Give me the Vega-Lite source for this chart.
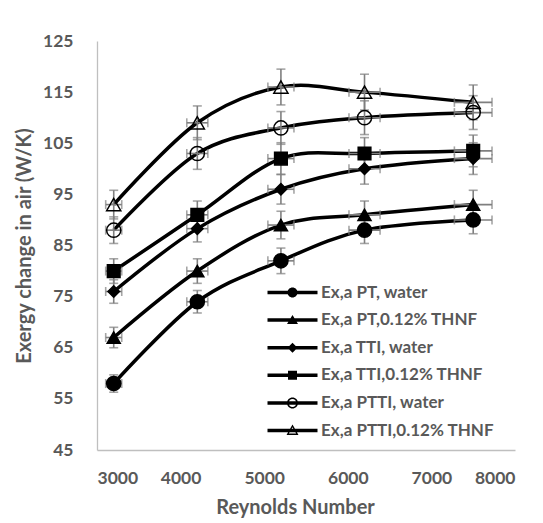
{
  "$schema": "https://vega.github.io/schema/vega-lite/v6.json",
  "autosize": {"type": "none"},
  "width": 418,
  "height": 409,
  "padding": {"left": 97, "top": 41, "right": 28, "bottom": 73},
  "background": "white",
  "config": {
    "view": {"stroke": null},
    "font": "Lato",
    "axis": {
      "grid": false, "ticks": false, "tickSize": 0,
      "domainColor": "#bfbfbf", "domainWidth": 1.3,
      "labelFont": "Lato", "labelFontSize": 17.5, "labelFontWeight": "bold", "labelColor": "#595959",
      "titleFont": "Lato", "titleFontSize": 20, "titleFontWeight": "bold", "titleColor": "#595959"
    },
    "legend": {
      "labelFont": "Lato", "labelFontSize": 17, "labelFontWeight": "bold", "labelColor": "#595959", "labelLimit": 0
    }
  },
  "data": {"values": [
    {"series": "Ex,a PT, water", "re": 3200, "ex": 58, "exErr": 1.7, "reErr": 96},
    {"series": "Ex,a PT, water", "re": 4200, "ex": 74, "exErr": 2.2, "reErr": 126},
    {"series": "Ex,a PT, water", "re": 5200, "ex": 82, "exErr": 2.5, "reErr": 156},
    {"series": "Ex,a PT, water", "re": 6200, "ex": 88, "exErr": 2.6, "reErr": 186},
    {"series": "Ex,a PT, water", "re": 7500, "ex": 90, "exErr": 2.7, "reErr": 225},
    {"series": "Ex,a PT,0.12% THNF", "re": 3200, "ex": 67, "exErr": 2.0, "reErr": 96},
    {"series": "Ex,a PT,0.12% THNF", "re": 4200, "ex": 80, "exErr": 2.4, "reErr": 126},
    {"series": "Ex,a PT,0.12% THNF", "re": 5200, "ex": 89, "exErr": 2.7, "reErr": 156},
    {"series": "Ex,a PT,0.12% THNF", "re": 6200, "ex": 91, "exErr": 2.7, "reErr": 186},
    {"series": "Ex,a PT,0.12% THNF", "re": 7500, "ex": 93, "exErr": 2.8, "reErr": 225},
    {"series": "Ex,a TTI, water", "re": 3200, "ex": 76, "exErr": 2.3, "reErr": 96},
    {"series": "Ex,a TTI, water", "re": 4200, "ex": 88.3, "exErr": 2.6, "reErr": 126},
    {"series": "Ex,a TTI, water", "re": 5200, "ex": 96, "exErr": 2.9, "reErr": 156},
    {"series": "Ex,a TTI, water", "re": 6200, "ex": 100, "exErr": 3.0, "reErr": 186},
    {"series": "Ex,a TTI, water", "re": 7500, "ex": 102, "exErr": 3.1, "reErr": 225},
    {"series": "Ex,a TTI,0.12% THNF", "re": 3200, "ex": 80, "exErr": 2.4, "reErr": 96},
    {"series": "Ex,a TTI,0.12% THNF", "re": 4200, "ex": 91, "exErr": 2.7, "reErr": 126},
    {"series": "Ex,a TTI,0.12% THNF", "re": 5200, "ex": 102, "exErr": 3.1, "reErr": 156},
    {"series": "Ex,a TTI,0.12% THNF", "re": 6200, "ex": 103, "exErr": 3.1, "reErr": 186},
    {"series": "Ex,a TTI,0.12% THNF", "re": 7500, "ex": 103.5, "exErr": 3.1, "reErr": 225},
    {"series": "Ex,a PTTI, water", "re": 3200, "ex": 88, "exErr": 2.6, "reErr": 96},
    {"series": "Ex,a PTTI, water", "re": 4200, "ex": 103, "exErr": 3.1, "reErr": 126},
    {"series": "Ex,a PTTI, water", "re": 5200, "ex": 108, "exErr": 3.2, "reErr": 156},
    {"series": "Ex,a PTTI, water", "re": 6200, "ex": 110, "exErr": 3.3, "reErr": 186},
    {"series": "Ex,a PTTI, water", "re": 7500, "ex": 111, "exErr": 3.3, "reErr": 225},
    {"series": "Ex,a PTTI,0.12% THNF", "re": 3200, "ex": 93, "exErr": 2.8, "reErr": 96},
    {"series": "Ex,a PTTI,0.12% THNF", "re": 4200, "ex": 109, "exErr": 3.3, "reErr": 126},
    {"series": "Ex,a PTTI,0.12% THNF", "re": 5200, "ex": 116, "exErr": 3.5, "reErr": 156},
    {"series": "Ex,a PTTI,0.12% THNF", "re": 6200, "ex": 115, "exErr": 3.5, "reErr": 186},
    {"series": "Ex,a PTTI,0.12% THNF", "re": 7500, "ex": 113, "exErr": 3.4, "reErr": 225}
  ]},
  "encoding": {
    "x": {"field": "re", "type": "quantitative",
      "scale": {"domain": [3000, 8000], "nice": false, "zero": false},
      "axis": {"values": [3000, 4000, 5000, 6000, 7000, 8000], "format": "d", "title": "Reynolds Number", "labelPadding": 19, "titlePadding": 11, "titleX": 198}},
    "y": {"field": "ex", "type": "quantitative",
      "scale": {"domain": [45, 125], "nice": false, "zero": false},
      "axis": {"values": [45, 55, 65, 75, 85, 95, 105, 115, 125], "format": "d", "title": "Exergy change in air (W/K)", "labelPadding": 24, "titlePadding": 8}}
  },
  "layer": [
    {
      "mark": {"type": "line", "interpolate": "cardinal", "color": "black", "strokeWidth": 3.5},
      "encoding": {"detail": {"field": "series"}}
    },
    {
      "mark": {"type": "errorbar", "color": "#7f7f7f", "thickness": 1.6, "ticks": {"size": 9}},
      "encoding": {"yError": {"field": "exErr"}}
    },
    {
      "mark": {"type": "errorbar", "color": "#7f7f7f", "thickness": 1.6, "ticks": {"size": 9}},
      "encoding": {"xError": {"field": "reErr"}}
    },
    {
      "mark": {"type": "point", "filled": true, "stroke": "black", "strokeWidth": 1.5, "opacity": 1},
      "encoding": {
        "shape": {"condition": [
          {"test": "datum.series=='Ex,a PT,0.12% THNF' || datum.series=='Ex,a PTTI,0.12% THNF'", "value": "triangle-up"},
          {"test": "datum.series=='Ex,a TTI, water'", "value": "diamond"},
          {"test": "datum.series=='Ex,a TTI,0.12% THNF'", "value": "square"}
        ], "value": "circle"},
        "fill": {"condition": {"test": "datum.series=='Ex,a PTTI, water' || datum.series=='Ex,a PTTI,0.12% THNF'", "value": "transparent"}, "value": "black"},
        "size": {"condition": [
          {"test": "datum.series=='Ex,a TTI, water'", "value": 130},
          {"test": "datum.series=='Ex,a PT,0.12% THNF'", "value": 170},
          {"test": "datum.series=='Ex,a TTI,0.12% THNF'", "value": 160}
        ], "value": 200}
      }
    },
    {
      "mark": {"type": "point", "filled": true, "color": "black", "opacity": 0},
      "encoding": {
        "shape": {"field": "series", "type": "nominal",
          "scale": {
            "domain": ["Ex,a PT, water", "Ex,a PT,0.12% THNF", "Ex,a TTI, water", "Ex,a TTI,0.12% THNF", "Ex,a PTTI, water", "Ex,a PTTI,0.12% THNF"],
            "range": [
              "M-25,-1.75H25V1.75H-25ZM5,0A5,5,0,1,1,-5,0A5,5,0,1,1,5,0Z",
              "M-25,-1.75H25V1.75H-25ZM0,-5L5.5,4L-5.5,4Z",
              "M-25,-1.75H25V1.75H-25ZM0,-5L5,0L0,5L-5,0Z",
              "M-25,-1.75H25V1.75H-25ZM-4.5,-4.5H4.5V4.5H-4.5Z",
              "M-25,-1.75H25V1.75H-25ZM5.5,0A5.5,5.5,0,1,1,-5.5,0A5.5,5.5,0,1,1,5.5,0ZM4,0A4,4,0,1,0,-4,0A4,4,0,1,0,4,0Z",
              "M-25,-1.75H25V1.75H-25ZM0,-6L6,4.5L-6,4.5ZM0,-3.2L-3.6,3L3.6,3Z"
            ]
          },
          "legend": {
            "title": null, "orient": "none", "legendX": 187, "legendY": 243, "padding": 0,
            "symbolSize": 4, "symbolOpacity": 1, "symbolStrokeWidth": 0, "symbolFillColor": "black",
            "labelOffset": 20, "rowPadding": 9.6
          }
        }
      }
    }
  ]
}
